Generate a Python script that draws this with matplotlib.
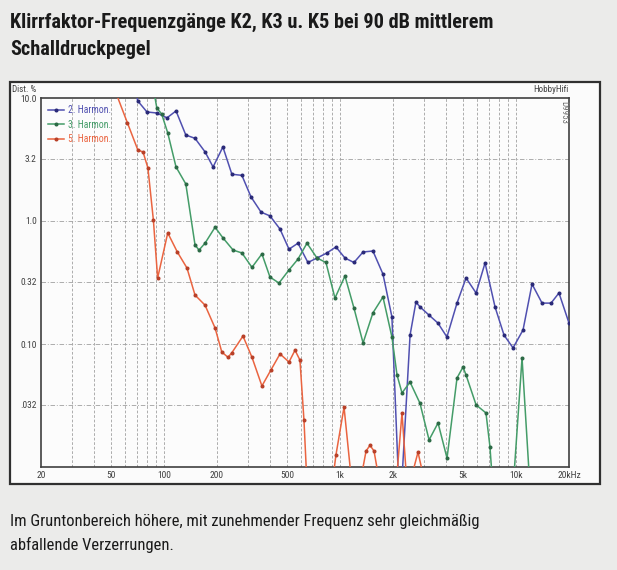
import matplotlib
matplotlib.use("Agg")
import matplotlib.pyplot as plt
from matplotlib import font_manager
from matplotlib.patches import Rectangle
from matplotlib.ticker import FixedLocator, NullFormatter, NullLocator

# Klirrfaktor-Daten (Frequenz in Hz, Verzerrung in %)
freq_k2 = [66, 71, 80, 91, 104, 117, 133, 150, 171, 190, 216, 243, 277, 312, 356, 400,
           456, 513, 577, 657, 740, 843, 948, 1067, 1200, 1352, 1538, 1754, 1972, 2190,
           2500, 2700, 2850, 3200, 3600, 4050, 4620, 5200, 5930, 6670, 7600, 8550, 9620,
           10960, 12330, 14060, 15810, 17540, 20000]
dist_k2 = [14, 9.45, 7.7, 7.55, 6.9, 7.85, 5.0, 4.7, 3.65, 2.75, 4.0, 2.4, 2.35, 1.57,
           1.18, 1.10, 0.86, 0.59, 0.66, 0.46, 0.50, 0.55, 0.615, 0.50, 0.46, 0.56, 0.57,
           0.37, 0.166, 0.004, 0.118, 0.219, 0.20, 0.172, 0.148, 0.114, 0.215, 0.344, 0.26,
           0.456, 0.20, 0.118, 0.093, 0.13, 0.307, 0.215, 0.215, 0.26, 0.148]

freq_k3 = [87, 91, 97, 105, 117, 133, 150, 158, 171, 195, 216, 247, 277, 316, 360, 400,
           450, 513, 577, 649, 740, 832, 936, 1067, 1200, 1352, 1538, 1754, 1972, 2108,
           2250, 2500, 2846, 3206, 3606, 4055, 4622, 5000, 5200, 5930, 6750, 7110, 7500,
           9490, 10820, 12160]
dist_k3 = [12, 8.3, 7.4, 5.2, 2.75, 2.0, 0.64, 0.58, 0.66, 0.89, 0.73, 0.58, 0.55, 0.42,
           0.54, 0.35, 0.313, 0.40, 0.49, 0.66, 0.50, 0.46, 0.236, 0.357, 0.196, 0.102,
           0.179, 0.241, 0.114, 0.056, 0.040, 0.049, 0.033, 0.0166, 0.0228, 0.0118, 0.053,
           0.065, 0.056, 0.032, 0.0275, 0.0146, 0.005, 0.005, 0.077, 0.005]

freq_k5 = [51, 62, 71, 76, 81, 87, 92, 105, 119, 135, 150, 171, 195, 213, 231, 243, 281,
           316, 360, 405, 456, 513, 555, 592, 624, 657, 877, 900, 948, 1054, 1170, 1334,
           1406, 1480, 1560, 1664, 2080, 2250, 2404, 2530, 2774, 3000, 3200]
dist_k5 = [13, 6.26, 3.78, 3.64, 2.70, 1.02, 0.344, 0.80, 0.56, 0.415, 0.25, 0.207, 0.135,
           0.086, 0.078, 0.085, 0.116, 0.078, 0.0456, 0.0615, 0.083, 0.0714, 0.089, 0.074,
           0.024, 0.005, 0.005, 0.007, 0.0125, 0.0307, 0.007, 0.009, 0.0135, 0.015, 0.0135,
           0.008, 0.007, 0.0275, 0.007, 0.008, 0.0132, 0.008, 0.005]

series = [
    ("2. Harmon.", freq_k2, dist_k2, "#5050b0", "#2a2a78"),
    ("3. Harmon.", freq_k3, dist_k3, "#449c68", "#2c6a46"),
    ("5. Harmon.", freq_k5, dist_k5, "#ea6440", "#b84028"),
]

y_ticks = [10.0, 3.2, 1.0, 0.32, 0.10, 0.032]
y_labels = ["10.0", "3.2", "1.0", "0.32", "0.10", ".032"]
x_ticks = [20, 50, 100, 200, 500, 1000, 2000, 5000, 10000, 20000]
x_labels = ["20", "50", "100", "200", "500", "1k", "2k", "5k", "10k", "20kHz"]
x_grid = [30, 40, 50, 60, 70, 80, 90, 100, 200, 300, 400, 500, 600, 700, 800, 900,
          1000, 2000, 3000, 4000, 5000, 6000, 7000, 8000, 9000, 10000]

title_lines = ["Klirrfaktor-Frequenzgänge K2, K3 u. K5 bei 90 dB mittlerem",
               "Schalldruckpegel"]
caption_lines = ["Im Gruntonbereich höhere, mit zunehmender Frequenz sehr gleichmäßig",
                 "abfallende Verzerrungen."]

# schmale Schrift suchen (je nach Installation)
fonts = font_manager.fontManager.ttflist
names = {f.name for f in fonts}
narrow_kw = {"family": ["Roboto", "DejaVu Sans"]}
if "Liberation Sans Narrow" in names:
    narrow_kw = {"family": ["Liberation Sans Narrow", "DejaVu Sans"]}
elif "Roboto Condensed" in names:
    narrow_kw = {"family": ["Roboto Condensed", "DejaVu Sans"]}
elif any(f.name == "DejaVu Sans" and "condensed" in str(f.stretch) for f in fonts):
    narrow_kw = {"family": ["DejaVu Sans"], "stretch": "condensed"}

W, H = 617, 570
fig = plt.figure(figsize=(W / 100, H / 100), dpi=100)
fig.patch.set_facecolor("#ebebea")
renderer = fig.canvas.get_renderer()


def fitted_lines(lines, y_pix, target_w, weight, size0):
    txts = [fig.text(10 / W, 1 - y / H, s, weight=weight, fontsize=size0,
                     color="#1a1a1a", va="baseline", **narrow_kw)
            for s, y in zip(lines, y_pix)]
    w = txts[0].get_window_extent(renderer).width
    for t in txts:
        t.set_fontsize(size0 * target_w / w)


fitted_lines(title_lines, [28, 55], 483, "bold", 16)
fitted_lines(caption_lines, [526, 550], 468, "normal", 12)

# Rahmen des Messdiagramms
fig.patches.append(Rectangle((10 / W, 1 - 484 / H), 590 / W, 402 / H,
                             transform=fig.transFigure, facecolor="#fbfbfb",
                             edgecolor="#303030", linewidth=1.6, zorder=-1))

ax = fig.add_axes([41 / W, 1 - 467 / H, 528 / W, 369 / H])
ax.set_zorder(2)
ax.set_facecolor("#fcfcfc")
ax.set_xscale("log")
ax.set_yscale("log")
ax.set_xlim(20, 20000)
ax.set_ylim(0.01, 10.0)

for xg in x_grid:
    ax.axvline(xg, color="#a6a6a6", lw=0.65, ls=(0, (3, 2)), zorder=1)
for yg in y_ticks[1:]:
    ax.axhline(yg, color="#a6a6a6", lw=0.65, ls=(0, (5, 2, 1, 2)), zorder=1)

for label, f, d, col, mcol in series:
    ax.plot(f, d, color=col, lw=1.1, marker="o", markersize=1.9,
            markerfacecolor=mcol, markeredgecolor=mcol, label=label, zorder=3)

ax.xaxis.set_major_locator(FixedLocator(x_ticks))
ax.xaxis.set_minor_locator(NullLocator())
ax.xaxis.set_minor_formatter(NullFormatter())
ax.set_xticklabels(x_labels)
ax.yaxis.set_major_locator(FixedLocator(y_ticks))
ax.yaxis.set_minor_locator(NullLocator())
ax.yaxis.set_minor_formatter(NullFormatter())
ax.set_yticklabels(y_labels)
ax.tick_params(length=0, labelsize=6.8, labelcolor="#404040", pad=3)
for lbl in ax.get_xticklabels() + ax.get_yticklabels():
    lbl.set_family(narrow_kw["family"])
for sp in ax.spines.values():
    sp.set_color("#404040")
    sp.set_linewidth(1.2)

leg = ax.legend(loc="upper left", frameon=False, handlelength=1.6,
                handletextpad=0.4, labelspacing=0.45, borderaxespad=0.35,
                labelcolor="linecolor", prop={"family": narrow_kw["family"], "size": 7})

fig.text(12 / W, 1 - 92 / H, "Dist. %", fontsize=6.5, color="#404040", **narrow_kw)
fig.text(568 / W, 1 - 92 / H, "HobbyHifi", fontsize=6.5, color="#404040", ha="right",
         **narrow_kw)
fig.text(564 / W, 1 - 101 / H, "D9953", fontsize=6.5, color="#707070", rotation=270,
         va="top", ha="center", **narrow_kw)

fig.savefig("out.png", dpi=100, facecolor=fig.get_facecolor())
